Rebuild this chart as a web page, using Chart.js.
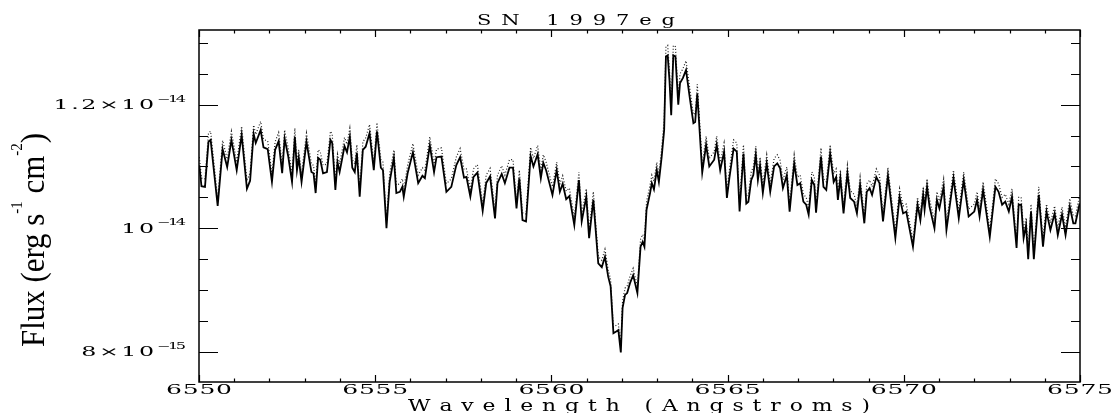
<!DOCTYPE html>
<html>
<head>
<meta charset="utf-8">
<script src="https://cdn.jsdelivr.net/npm/chart.js@4.4.0/dist/chart.umd.min.js"></script>
<style>
  html, body { margin: 0; padding: 0; background: #fff; }
  #wrap { width: 1114px; height: 413px; position: relative; }
</style>
</head>
<body>
<div id="wrap"><canvas id="spec" width="1114" height="413"></canvas></div>
<script>
// Espectro H-alpha, longitud de onda en Angstroms
const wavelength = [
  6550.01, 6550.07, 6550.17, 6550.27, 6550.33, 6550.53, 6550.67, 6550.80, 6550.92, 6551.07,
  6551.21, 6551.36, 6551.45, 6551.55, 6551.61, 6551.75, 6551.83, 6551.95, 6552.07, 6552.16,
  6552.26, 6552.36, 6552.43, 6552.53, 6552.64, 6552.72, 6552.78, 6552.83, 6552.91, 6553.05,
  6553.19, 6553.25, 6553.31, 6553.38, 6553.44, 6553.52, 6553.63, 6553.73, 6553.78, 6553.87,
  6553.93, 6553.99, 6554.07, 6554.13, 6554.20, 6554.28, 6554.35, 6554.42, 6554.48, 6554.56,
  6554.65, 6554.73, 6554.84, 6554.96, 6555.05, 6555.16, 6555.22, 6555.32, 6555.41, 6555.53,
  6555.60, 6555.70, 6555.77, 6555.81, 6555.92, 6556.07, 6556.22, 6556.34, 6556.41, 6556.55,
  6556.67, 6556.74, 6556.88, 6557.02, 6557.16, 6557.30, 6557.41, 6557.52, 6557.59, 6557.70,
  6557.79, 6557.90, 6558.05, 6558.15, 6558.26, 6558.40, 6558.47, 6558.59, 6558.68, 6558.81,
  6558.91, 6559.01, 6559.09, 6559.18, 6559.28, 6559.41, 6559.49, 6559.61, 6559.70, 6559.77,
  6559.85, 6560.03, 6560.15, 6560.24, 6560.32, 6560.42, 6560.51, 6560.65, 6560.78, 6560.86,
  6560.99, 6561.07, 6561.19, 6561.33, 6561.43, 6561.52, 6561.61, 6561.68, 6561.76, 6561.85,
  6561.90, 6561.97, 6562.02, 6562.09, 6562.15, 6562.23, 6562.32, 6562.44, 6562.53, 6562.59,
  6562.64, 6562.70, 6562.80, 6562.85, 6562.91, 6562.99, 6563.05, 6563.13, 6563.20, 6563.25,
  6563.30, 6563.35, 6563.40, 6563.46, 6563.52, 6563.60, 6563.65, 6563.73, 6563.82, 6563.93,
  6564.03, 6564.08, 6564.14, 6564.28, 6564.39, 6564.48, 6564.62, 6564.69, 6564.79, 6564.90,
  6564.98, 6565.05, 6565.17, 6565.26, 6565.34, 6565.45, 6565.53, 6565.59, 6565.67, 6565.73,
  6565.80, 6565.86, 6565.92, 6566.00, 6566.11, 6566.21, 6566.32, 6566.41, 6566.49, 6566.57,
  6566.68, 6566.76, 6566.89, 6566.98, 6567.06, 6567.15, 6567.23, 6567.30, 6567.39, 6567.46,
  6567.51, 6567.65, 6567.72, 6567.80, 6567.91, 6568.01, 6568.08, 6568.13, 6568.20, 6568.29,
  6568.40, 6568.48, 6568.59, 6568.67, 6568.76, 6568.88, 6568.95, 6569.03, 6569.10, 6569.22,
  6569.31, 6569.41, 6569.55, 6569.76, 6569.88, 6569.98, 6570.07, 6570.26, 6570.39, 6570.47,
  6570.55, 6570.59, 6570.66, 6570.73, 6570.87, 6570.94, 6571.01, 6571.13, 6571.21, 6571.32,
  6571.41, 6571.56, 6571.70, 6571.84, 6572.00, 6572.08, 6572.15, 6572.25, 6572.44, 6572.60,
  6572.69, 6572.79, 6572.88, 6572.98, 6573.07, 6573.20, 6573.26, 6573.33, 6573.40, 6573.47,
  6573.53, 6573.61, 6573.69, 6573.83, 6573.95, 6574.05, 6574.16, 6574.28, 6574.37, 6574.49,
  6574.59, 6574.71, 6574.81, 6574.87, 6574.99
];

// Flujo (unidades de 1e-15 erg s^-1 cm^-2), linea continua
const fluxSolid = [
  11.02, 10.68, 10.67, 11.40, 11.43, 10.36, 11.28, 10.99, 11.43, 10.94,
  11.51, 10.64, 10.77, 11.53, 11.38, 11.59, 11.31, 11.28, 10.75, 11.27,
  11.41, 10.89, 11.45, 11.17, 10.75, 11.48, 10.94, 11.14, 10.75, 11.40,
  10.91, 10.89, 10.57, 11.14, 11.11, 10.89, 10.91, 11.43, 11.38, 10.62,
  11.07, 10.91, 11.15, 11.33, 11.23, 11.48, 10.98, 10.91, 11.22, 10.51,
  11.27, 11.32, 11.54, 10.94, 11.57, 10.98, 10.94, 10.00, 10.75, 11.14,
  10.57, 10.59, 10.67, 10.51, 10.89, 11.23, 10.73, 10.85, 10.81, 11.34,
  10.91, 11.15, 11.16, 10.59, 10.67, 11.02, 11.15, 10.82, 10.83, 10.51,
  10.83, 10.90, 10.28, 10.73, 10.84, 10.16, 10.73, 10.88, 10.73, 10.98,
  10.98, 10.32, 10.81, 10.13, 10.11, 11.17, 11.00, 11.20, 10.81, 11.06,
  10.94, 10.54, 10.94, 10.59, 10.72, 10.47, 10.52, 10.05, 10.78, 10.11,
  10.51, 9.84, 10.46, 9.43, 9.37, 9.54, 9.22, 9.06, 8.30, 8.33,
  8.35, 7.99, 8.71, 8.92, 8.95, 9.11, 9.24, 8.95, 9.70, 9.78,
  9.70, 10.30, 10.57, 10.73, 10.63, 10.94, 10.75, 11.16, 11.59, 12.78,
  12.80, 12.40, 11.83, 12.80, 12.78, 12.00, 12.35, 12.43, 12.56, 12.10,
  11.70, 11.72, 12.18, 10.90, 11.35, 11.00, 11.11, 11.35, 10.94, 11.24,
  10.49, 10.81, 11.29, 11.24, 10.27, 11.21, 10.40, 10.43, 10.78, 10.86,
  11.19, 10.78, 11.02, 10.57, 11.05, 10.59, 11.00, 11.05, 10.97, 10.65,
  10.86, 10.27, 11.05, 10.70, 10.73, 10.43, 10.38, 10.22, 10.78, 10.70,
  10.25, 11.16, 10.67, 10.62, 11.21, 10.75, 10.83, 10.46, 10.81, 10.24,
  10.89, 10.49, 10.43, 10.24, 10.70, 10.08, 10.59, 10.65, 10.54, 10.83,
  10.73, 10.11, 10.85, 9.84, 10.51, 10.24, 10.27, 9.70, 10.38, 10.13,
  10.54, 10.30, 10.67, 10.35, 10.00, 10.46, 10.32, 10.67, 9.97, 10.43,
  10.81, 10.16, 10.78, 10.19, 10.27, 10.46, 10.19, 10.62, 9.86, 10.67,
  10.59, 10.38, 10.43, 10.27, 10.51, 9.68, 10.38, 10.38, 9.84, 10.05,
  9.50, 10.27, 9.50, 10.54, 9.70, 10.27, 9.97, 10.24, 9.89, 10.22,
  9.89, 10.35, 10.08, 10.08, 10.40
];

// Flujo de la segunda curva (punteada), mismas longitudes de onda
const fluxDotted = [
  11.15, 10.81, 10.80, 11.54, 11.57, 10.48, 11.42, 11.12, 11.57, 11.07,
  11.65, 10.77, 10.90, 11.67, 11.52, 11.73, 11.44, 11.41, 10.88, 11.40,
  11.55, 11.02, 11.59, 11.30, 10.88, 11.62, 11.07, 11.27, 10.88, 11.54,
  11.04, 11.02, 10.70, 11.27, 11.24, 11.02, 11.04, 11.57, 11.52, 10.75,
  11.20, 11.04, 11.28, 11.47, 11.36, 11.62, 11.11, 11.04, 11.35, 10.63,
  11.40, 11.46, 11.68, 11.07, 11.71, 11.11, 11.07, 10.12, 10.88, 11.27,
  10.70, 10.72, 10.80, 10.63, 11.02, 11.37, 10.86, 10.98, 10.94, 11.48,
  11.04, 11.28, 11.30, 10.72, 10.80, 11.15, 11.29, 10.95, 10.96, 10.63,
  10.96, 11.03, 10.40, 10.86, 10.97, 10.28, 10.86, 11.01, 10.86, 11.11,
  11.11, 10.44, 10.94, 10.25, 10.23, 11.31, 11.13, 11.34, 10.94, 11.19,
  11.07, 10.67, 11.07, 10.72, 10.85, 10.60, 10.65, 10.17, 10.91, 10.23,
  10.64, 9.96, 10.59, 9.54, 9.48, 9.66, 9.33, 9.17, 8.40, 8.43,
  8.45, 8.09, 8.82, 9.03, 9.06, 9.22, 9.35, 9.06, 9.82, 9.90,
  9.82, 10.43, 10.70, 10.86, 10.76, 11.07, 10.88, 11.30, 11.74, 12.94,
  12.96, 12.55, 11.98, 12.96, 12.94, 12.15, 12.50, 12.58, 12.71, 12.25,
  11.84, 11.86, 12.33, 11.03, 11.49, 11.13, 11.24, 11.49, 11.07, 11.38,
  10.61, 10.94, 11.43, 11.38, 10.39, 11.35, 10.52, 10.55, 10.91, 10.99,
  11.33, 10.91, 11.15, 10.70, 11.19, 10.72, 11.13, 11.19, 11.10, 10.78,
  10.99, 10.39, 11.19, 10.83, 10.86, 10.55, 10.50, 10.34, 10.91, 10.83,
  10.37, 11.30, 10.80, 10.75, 11.35, 10.88, 10.96, 10.58, 10.94, 10.36,
  11.02, 10.61, 10.55, 10.36, 10.83, 10.20, 10.72, 10.78, 10.67, 10.96,
  10.86, 10.23, 10.98, 9.96, 10.64, 10.36, 10.39, 9.81, 10.50, 10.25,
  10.67, 10.42, 10.80, 10.47, 10.12, 10.59, 10.44, 10.80, 10.09, 10.55,
  10.94, 10.28, 10.91, 10.31, 10.39, 10.59, 10.31, 10.75, 9.98, 10.80,
  10.72, 10.50, 10.55, 10.39, 10.64, 9.80, 10.50, 10.50, 9.96, 10.17,
  9.62, 10.39, 9.62, 10.67, 9.82, 10.39, 10.09, 10.36, 10.01, 10.34,
  10.01, 10.48, 10.20, 10.20, 10.53
];

// Ejes
const xMajorTicks = [6550, 6555, 6560, 6565, 6570, 6575];
const yMajorTicks = [8, 10, 12];
const yTickMantissa = ['8\u00d710', '10', '1.2\u00d710'];
const yTickExponent = ['\u221215', '\u221214', '\u221214'];

const SERIF = '"DejaVu Serif", "Liberation Serif", serif';
const NARROW = '"Liberation Serif", serif';

// Texto con letras separadas y estiradas en horizontal (estilo PGPLOT)
function spacedText(ctx, text, x, y, o) {
  ctx.font = o.font;
  const sx = o.sx || 1;
  const chars = Array.from(text);
  const widths = chars.map(c => ctx.measureText(c).width * sx);
  const natural = widths.reduce((s, w) => s + w, 0);
  let gap = o.gap != null ? o.gap : 0;
  if (o.width != null && chars.length > 1) gap = (o.width - natural) / (chars.length - 1);
  const total = natural + gap * (chars.length - 1);
  let cx = x;
  if (o.align === 'center') cx = x - total / 2;
  else if (o.align === 'right') cx = x - total;
  ctx.textBaseline = 'alphabetic';
  ctx.textAlign = 'left';
  chars.forEach((c, i) => {
    ctx.save();
    ctx.translate(cx, y);
    ctx.scale(sx, 1);
    ctx.fillText(c, 0, 0);
    ctx.restore();
    cx += widths[i] + gap;
  });
}

const frameAxes = {
  id: 'frameAxes',
  afterDraw(chart) {
    const { ctx, chartArea: a, scales: { x, y } } = chart;
    ctx.save();
    ctx.strokeStyle = '#000';
    ctx.fillStyle = '#000';
    ctx.lineWidth = 1.5;
    ctx.strokeRect(a.left, a.top, a.right - a.left, a.bottom - a.top);

    // marcas del eje x, hacia dentro arriba y abajo
    ctx.lineWidth = 1.2;
    ctx.beginPath();
    for (let v = 6550; v <= 6575; v++) {
      const px = Math.round(x.getPixelForValue(v)) + 0.5;
      const len = v % 5 === 0 ? 7 : 3.5;
      ctx.moveTo(px, a.bottom); ctx.lineTo(px, a.bottom - len);
      ctx.moveTo(px, a.top); ctx.lineTo(px, a.top + len);
    }
    // marcas del eje y, cada 5e-16
    for (let k = 16; k <= 26; k++) {
      const v = k / 2;
      const py = Math.round(y.getPixelForValue(v)) + 0.5;
      const len = yMajorTicks.includes(v) ? 19 : 9;
      ctx.moveTo(a.left, py); ctx.lineTo(a.left + len, py);
      ctx.moveTo(a.right, py); ctx.lineTo(a.right - len, py);
    }
    ctx.stroke();

    // etiquetas del eje x
    xMajorTicks.forEach(v => {
      spacedText(ctx, String(v), x.getPixelForValue(v), 393.5,
        { font: '12.5px ' + SERIF, sx: 2.0, width: 66, align: 'center' });
    });

    // etiquetas del eje y con exponente
    yMajorTicks.forEach((v, i) => {
      const py = y.getPixelForValue(v);
      spacedText(ctx, yTickMantissa[i], 154, py + 4.4,
        { font: '12.5px ' + SERIF, sx: 1.9, gap: 2.5, align: 'right' });
      spacedText(ctx, yTickExponent[i], 157, py - 3,
        { font: '8.5px ' + SERIF, sx: 1.9, width: 29, align: 'left' });
    });

    // titulo y nombre del eje x
    spacedText(ctx, 'SN 1997eg', 477, 24.5, { font: '15px ' + SERIF, sx: 1.4, width: 198, align: 'left' });
    spacedText(ctx, 'Wavelength (Angstroms)', 408, 410.5, { font: '17.5px ' + SERIF, sx: 1.25, width: 462, align: 'left' });

    // nombre del eje y, girado y estrecho
    const parts = [
      { t: 'Flux (erg s', sup: false }, { t: '-1', sup: true },
      { t: ' cm', sup: false }, { t: '-2', sup: true }, { t: ')', sup: false }
    ];
    const fMain = '33px ' + NARROW, fSup = '16px ' + NARROW;
    let total = 0;
    parts.forEach(p => { ctx.font = p.sup ? fSup : fMain; p.w = ctx.measureText(p.t).width; total += p.w; });
    ctx.translate(43.5, 347);
    ctx.rotate(-Math.PI / 2);
    ctx.scale(214 / total, 1);
    ctx.textAlign = 'left';
    let tx = 0;
    parts.forEach(p => {
      ctx.font = p.sup ? fSup : fMain;
      ctx.fillText(p.t, tx, p.sup ? -22 : 0);
      tx += p.w;
    });
    ctx.restore();
  }
};

const toPoints = (ys) => wavelength.map((w, i) => ({ x: w, y: ys[i] }));

new Chart(document.getElementById('spec'), {
  type: 'line',
  data: {
    datasets: [
      {
        data: toPoints(fluxSolid),
        borderColor: '#000',
        borderWidth: 1.8,
        pointRadius: 0,
        tension: 0,
        order: 1
      },
      {
        data: toPoints(fluxDotted),
        borderColor: '#222',
        borderWidth: 1.2,
        borderDash: [1, 2],
        pointRadius: 0,
        tension: 0,
        order: 2
      }
    ]
  },
  options: {
    responsive: false,
    animation: false,
    devicePixelRatio: 1,
    layout: { padding: { left: 199, right: 34, top: 30, bottom: 31 } },
    plugins: { legend: { display: false }, tooltip: { enabled: false } },
    scales: {
      x: { type: 'linear', min: 6550, max: 6575, display: false },
      y: { type: 'linear', min: 7.51, max: 13.21, display: false }
    }
  },
  plugins: [frameAxes]
});
</script>
</body>
</html>
